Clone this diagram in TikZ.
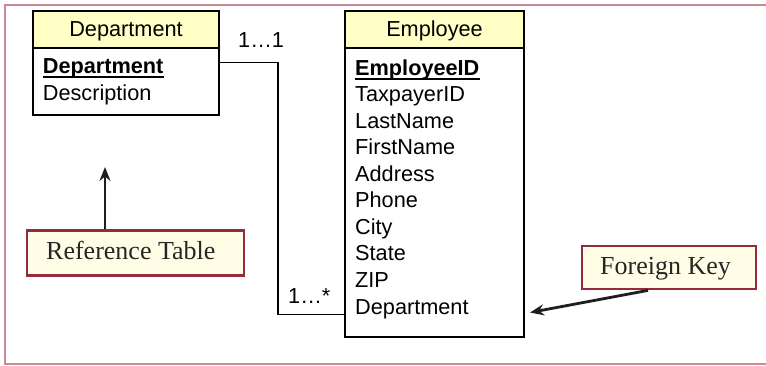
\documentclass[tikz,border=0pt]{standalone}
\usepackage{fontspec}
\setmainfont{Liberation Serif}
\newfontfamily\arialf{Liberation Sans}
\usetikzlibrary{arrows.meta}
\definecolor{hdryellow}{RGB}{255,255,198}
\definecolor{calloutfill}{RGB}{255,253,229}
\definecolor{calloutred}{RGB}{152,40,62}
\definecolor{framepink}{RGB}{201,138,151}
\definecolor{arrowgray}{RGB}{30,30,30}
\tikzset{
  tabfont/.style={font=\arialf\fontsize{21.7}{26}\selectfont},
  hdr/.style={draw=black, line width=2pt, fill=hdryellow, inner sep=0pt},
  bodybox/.style={draw=black, line width=2pt, fill=white, inner sep=0pt},
  headtext/.style={tabfont, anchor=base, inner sep=0pt},
  attr/.style={tabfont, anchor=base west, inner sep=0pt},
  mult/.style={tabfont, anchor=base west, inner sep=0pt},
  callout/.style={draw=calloutred, line width=2.8pt, fill=calloutfill, inner sep=0pt},
  callouttext/.style={anchor=base west, inner sep=0pt, font=\fontsize{26}{30}\selectfont, text=black!85},
  pointer/.style={-{Stealth[length=14pt,width=11pt]}, line width=2.8pt, draw=arrowgray},
  link/.style={line width=1.7pt, draw=black},
  keyline/.style={line width=1.8pt, draw=black},
  frame/.style={draw=framepink, line width=2.5pt}
}
\begin{document}
\begin{tikzpicture}[x=1pt,y=-1pt]
\useasboundingbox (0,0) rectangle (766,366);
% outer frame
\draw[frame] (768,5) -- (5,5) -- (5,364) -- (768,364);

% Department table
\node[bodybox, minimum width=186pt, minimum height=67pt] (dbody) at (126,81.5) {};
\node[hdr, minimum width=186pt, minimum height=37pt] (dhead) at (126,29.5) {};
\node[headtext] (dheadtxt) at (126,36.7) {Department};
\node[attr] (dkey) at (42.7,73.3) {\textbf{Department}};
\draw[keyline] ([yshift=-3.8pt]dkey.base west) -- ([yshift=-3.8pt]dkey.base east);
\node[attr] (ddesc) at (42.7,100.7) {Description};

% Employee table
\node[bodybox, minimum width=179pt, minimum height=289pt] (ebody) at (434.5,192.5) {};
\node[hdr, minimum width=179pt, minimum height=37pt] (ehead) at (434.5,29.5) {};
\node[headtext] (eheadtxt) at (434.5,36.7) {Employee};
\node[attr] (ekey)  at (355,75.5)  {\textbf{EmployeeID}};
\draw[keyline] ([yshift=-3.8pt]ekey.base west) -- ([yshift=-3.8pt]ekey.base east);
\node[attr] (etax)  at (355,102.0) {TaxpayerID};
\node[attr] (elast) at (355,128.5) {LastName};
\node[attr] (efirst) at (355,155.0) {FirstName};
\node[attr] (eaddr) at (355,181.5) {Address};
\node[attr] (ephone) at (355,208.0) {Phone};
\node[attr] (ecity) at (355,234.5) {City};
\node[attr] (estate) at (355,261.0) {State};
\node[attr] (ezip)  at (355,287.5) {ZIP};
\node[attr] (edept) at (355,314.5) {Department};

% relationship
\coordinate (bendx) at (278,0);
\draw[link] ([yshift=19pt]dbody.east) -- ([yshift=19pt]dbody.east -| bendx)
  -- (bendx |- edept.base) -- (ebody.west |- edept.base);
\node[mult] (m1) at (238,48) {1…1};
\node[mult] (m2) at (288,303) {1…*};

% callouts
\node[callout, minimum width=217pt, minimum height=45pt] (reftab) at (135.5,253) {};
\node[callouttext] (reftxt) at (46,259) {Reference Table};
\draw[pointer] (reftab.north -| 105,0) -- (105,167) coordinate (reftip);

\node[callout, minimum width=174pt, minimum height=43pt] (fk) at (669,267.5) {};
\node[callouttext] (fktxt) at (600,274) {Foreign Key};
\coordinate (fktip) at (530,312.5);
\draw[pointer] (fk.south -| 648,0) -- (fktip);
\end{tikzpicture}
\end{document}
